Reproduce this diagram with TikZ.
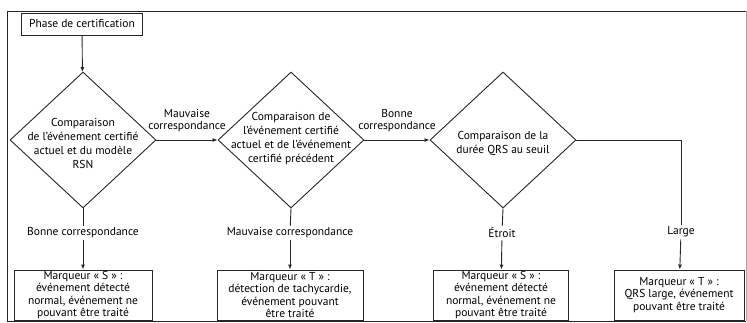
\documentclass[tikz,border=0pt]{standalone}
\usepackage{fontspec}
\setmainfont{PT Sans}
\usetikzlibrary{shapes.geometric,arrows.meta}
\tikzset{
  every picture/.style={x=1pt,y=1pt},
  line/.style={draw=black!85, line width=0.9pt},
  box/.style={line, minimum height=50pt, inner sep=1pt, align=center, font=\fontsize{11.5}{12.2}\selectfont},
  decision/.style={diamond, line, minimum width=146pt, minimum height=136pt, inner sep=0pt},
  dtext/.style={align=center, font=\fontsize{11.5}{14}\selectfont},
  lbl/.style={align=center, inner sep=2pt, font=\fontsize{11.5}{11.5}\selectfont},
  arr/.style={line, -{Latex[length=5pt,width=4pt]}}
}
\begin{document}
\begin{tikzpicture}
  \useasboundingbox (0,0) rectangle (747,-323);
  \draw[line] (746,-11) -- (7,-11) -- (7,-321) -- (746,-321);
  \draw[draw=black!35, line width=0.6pt] (746,-11) -- (746,-321);
  \node[box, minimum width=121pt, minimum height=22pt] (start) at (82,-24) {Phase de certification};
  \node[decision] (d1) at (83,-140) {};
  \node[decision] (d2) at (291,-140) {};
  \node[decision] (d3) at (503,-140) {};
  \node[dtext] (t1) at (83,-143) {Comparaison\\de l'événement certifié\\actuel et du modèle\\RSN};
  \node[dtext] (t2) at (291,-139) {Comparaison de\\l'événement certifié\\actuel et de l'événement\\certifié précédent};
  \node[dtext] (t3) at (503,-143) {Comparaison de la\\durée QRS au seuil};
  \node[lbl] (l1) at (83,-233) {Bonne correspondance};
  \node[lbl] (l2) at (290,-233) {Mauvaise correspondance};
  \node[lbl] (l3) at (502,-233) {Étroit};
  \node[lbl] (l4) at (681,-232) {Large};
  \coordinate (c4) at (681,-140);
  \node[box, minimum width=138pt] (b1) at (83,-295) {Marqueur « S » :\\événement détecté\\normal, événement ne\\pouvant être traité};
  \node[box, minimum width=146pt] (b2) at (290,-295) {Marqueur « T » :\\détection de tachycardie,\\événement pouvant\\être traité};
  \node[box, minimum width=135pt] (b3) at (501,-295) {Marqueur « S » :\\événement détecté\\normal, événement ne\\pouvant être traité};
  \node[box, minimum width=130pt] (b4) at (679,-295) {Marqueur « T » :\\QRS large, événement\\pouvant être traité};
  \begin{scope}[arr]
    \draw (start) to (d1);
    \draw (d1.east) to node[lbl, above=6pt] {Mauvaise\\correspondance} (d2.west);
    \draw (d2.east) to node[lbl, above=6pt] {Bonne\\correspondance} (d3.west);
    \draw (l1) to (b1);
    \draw (l2) to (b2);
    \draw (l3) to (b3);
    \draw (l4) to (b4);
  \end{scope}
  \begin{scope}[line]
    \draw (d1.south) to (l1);
    \draw (d2.south) to (l2);
    \draw (d3.south) to (l3);
    \draw (d3.east) -- (c4) -- (l4);
  \end{scope}
\end{tikzpicture}
\end{document}
